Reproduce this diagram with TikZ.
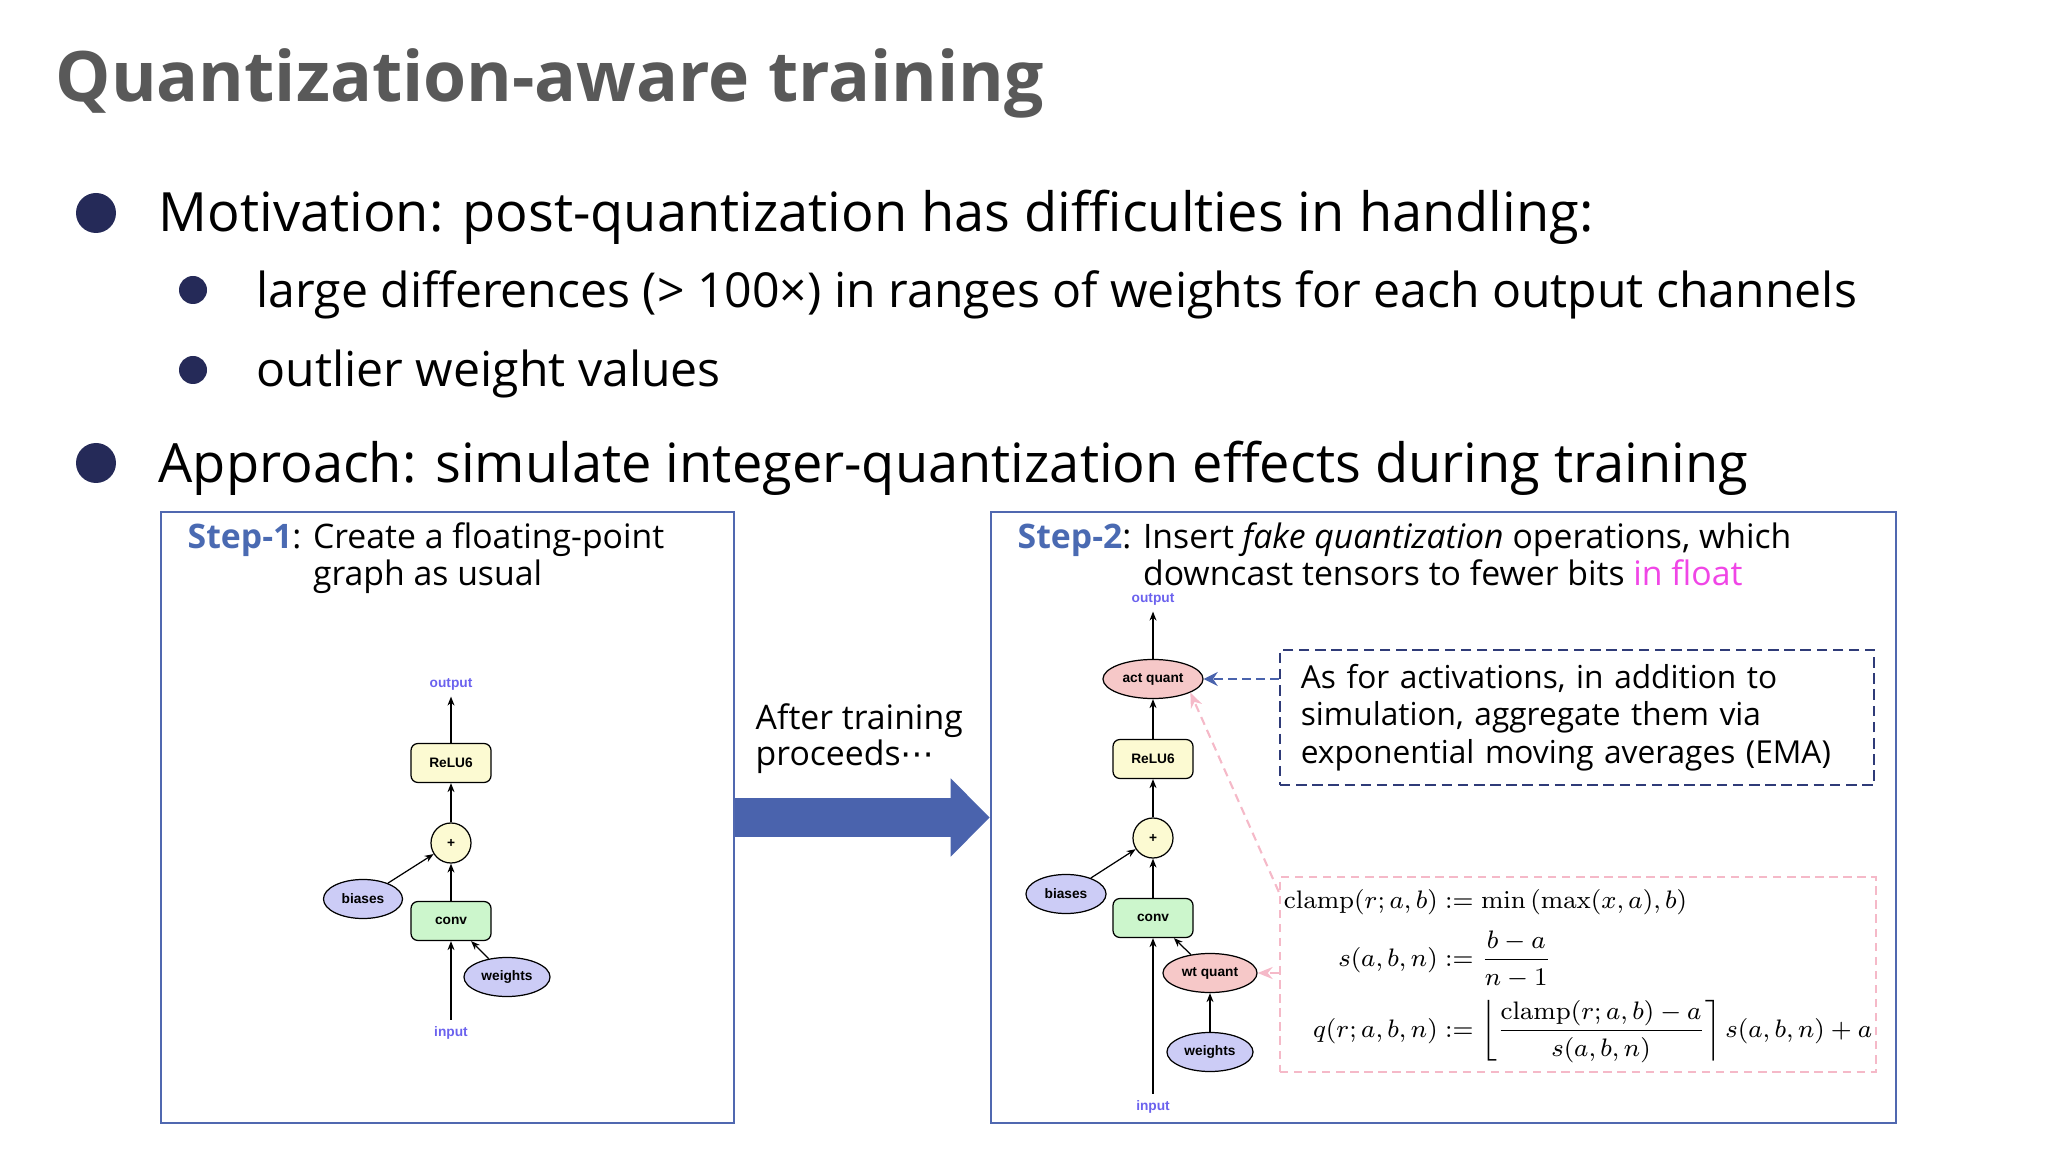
\documentclass[tikz,border=0pt]{standalone}
\usepackage{amsmath}
\usepackage[no-math]{fontspec}
\setmainfont{Open Sans}
\newfontfamily\graphfont{Liberation Sans}
\newfontfamily\symfont{DejaVu Sans}
\usetikzlibrary{arrows.meta,shapes.geometric}
\definecolor{titlegray}{HTML}{595959}
\definecolor{bulletnavy}{HTML}{252A58}
\definecolor{stepblue}{HTML}{4A6AB2}
\definecolor{panelblue}{HTML}{5068B0}
\definecolor{arrowblue}{HTML}{4A63AD}
\definecolor{emanavy}{HTML}{2F3B78}
\definecolor{floatpink}{HTML}{F046E6}
\definecolor{formpink}{HTML}{F5B9C8}
\definecolor{reluyellow}{HTML}{FCFAD2}
\definecolor{convgreen}{HTML}{CCF6CC}
\definecolor{paramlilac}{HTML}{CCCCF6}
\definecolor{quantpink}{HTML}{F6C8C8}
\definecolor{iopurple}{HTML}{6B62EE}
\begin{document}
\begin{tikzpicture}[x=0.01cm,y=-0.01cm]
\tikzstyle{every node}+=[inner sep=0pt]
\tikzstyle{textline}=[anchor=base west]
\tikzstyle{stepsize}=[font=\fontsize{9.6}{10.3}\selectfont]
\tikzstyle{panel}=[draw=panelblue,line width=0.6pt,minimum height=6.11cm]
\tikzstyle{opbox}=[draw,line width=0.35pt,rounded corners=0.07cm,minimum width=0.80cm,minimum height=0.39cm,font=\graphfont\bfseries\fontsize{3.9}{4.5}\selectfont]
\tikzstyle{opcirc}=[opbox,circle,fill=reluyellow,minimum size=0.40cm]
\tikzstyle{opell}=[opbox,ellipse,minimum height=0.39cm]
\tikzstyle{iolabel}=[inner sep=0.06cm,text=iopurple,font=\graphfont\bfseries\fontsize{3.9}{4.5}\selectfont]
\tikzstyle{garrow}=[line width=0.35pt,-{Stealth[length=0.09cm,width=0.07cm]}]
\tikzstyle{bigarrow}=[draw=arrowblue,line width=0.38cm,-{Triangle[length=0.39cm,width=0.76cm]}]
\tikzstyle{emabox}=[draw=emanavy,line width=0.6pt,dashed,dash pattern=on 3pt off 1.6pt,minimum width=5.94cm,minimum height=1.35cm,text width=5.52cm,inner xsep=0.21cm,align=left,font=\fontsize{9}{10.6}\selectfont]
\tikzstyle{emaarrow}=[draw=arrowblue,line width=0.7pt,dash pattern=on 2.4pt off 1.6pt,-{Stealth[length=0.14cm,width=0.14cm]}]
\tikzstyle{formbox}=[draw=formpink,line width=0.6pt,dash pattern=on 2.4pt off 1.6pt,minimum width=5.96cm,minimum height=1.95cm,font=\fontsize{8}{10}\selectfont]
\tikzstyle{formarrow}=[draw=formpink,line width=0.6pt,dash pattern=on 2.4pt off 1.6pt,-{Stealth[length=0.15cm,width=0.12cm]}]
\useasboundingbox (0,0) rectangle (2048,1152);
\node[textline,text=titlegray,font=\bfseries\fontsize{19.8}{23}\selectfont] (title) at (55,102) {Quantization-aware training};
\fill[bulletnavy] (96,213) circle (20);
\fill[bulletnavy] (193,290) circle (14);
\fill[bulletnavy] (193,370) circle (14);
\fill[bulletnavy] (96,463) circle (20);
\node[textline,font=\fontsize{15.4}{18}\selectfont] (motivation) at (158,232) {Motivation: post-quantization has difficulties in handling:};
\node[textline,font=\fontsize{13.7}{16}\selectfont] (ranges) at (256,308) {large differences (> 100×) in ranges of weights for each output channels};
\node[textline,font=\fontsize{13.7}{16}\selectfont] (outliers) at (256,387) {outlier weight values};
\node[textline,font=\fontsize{15.4}{18}\selectfont] (approach) at (158,482) {Approach: simulate integer-quantization effects during training};
\node[panel,minimum width=5.73cm] (box1) at (447.5,817.5) {};
\node[panel,minimum width=9.05cm] (box2) at (1443.5,817.5) {};
\draw[bigarrow] (box1.east) -- (box2.west);
\node[textline,stepsize] (stepone) at (187,549) {\textcolor{stepblue}{\bfseries Step-1}: \begin{tabular}[t]{@{}l@{}}Create a floating-point\\graph as usual\end{tabular}};
\node[textline,stepsize] (steptwo) at (1017,549) {\textcolor{stepblue}{\bfseries Step-2}: \begin{tabular}[t]{@{}l@{}}Insert \textit{fake quantization} operations, which\\downcast tensors to fewer bits \textcolor{floatpink}{in float}\end{tabular}};
\node[textline,stepsize] (after) at (755,729) {\begin{tabular}[t]{@{}l@{}}After training\\proceeds{\symfont ⋯}\end{tabular}};
\node[iolabel] (out1) at (451,684) {output};
\node[opbox,fill=reluyellow] (relu1) at (451,763) {ReLU6};
\node[opcirc] (add1) at (451,843) {+};
\node[opbox,fill=convgreen] (conv1) at (451,921) {conv};
\node[opell,fill=paramlilac,minimum width=0.79cm] (bias1) at (363,899) {biases};
\node[opell,fill=paramlilac,minimum width=0.86cm] (wts1) at (507,977) {weights};
\node[iolabel] (in1) at (451,1033) {input};
\draw[garrow] (in1) -- (conv1);
\draw[garrow] (wts1) -- (conv1);
\draw[garrow] (conv1) -- (add1);
\draw[garrow] (bias1) -- (add1);
\draw[garrow] (add1) -- (relu1);
\draw[garrow] (relu1) -- (out1);
\node[iolabel] (out2) at (1153,599) {output};
\node[opell,fill=quantpink,minimum width=1.00cm] (actq2) at (1153,679) {act quant};
\node[opbox,fill=reluyellow] (relu2) at (1153,759) {ReLU6};
\node[opcirc] (add2) at (1153,838) {+};
\node[opbox,fill=convgreen] (conv2) at (1153,918) {conv};
\node[opell,fill=paramlilac,minimum width=0.80cm] (bias2) at (1066,894) {biases};
\node[opell,fill=quantpink,minimum width=0.94cm] (wtq2) at (1210,973) {wt quant};
\node[opell,fill=paramlilac,minimum width=0.86cm] (wts2) at (1210,1052) {weights};
\node[iolabel] (in2) at (1153,1107) {input};
\draw[garrow] (in2) -- (conv2);
\draw[garrow] (wts2) -- (wtq2);
\draw[garrow] (wtq2) -- (conv2);
\draw[garrow] (conv2) -- (add2);
\draw[garrow] (bias2) -- (add2);
\draw[garrow] (add2) -- (relu2);
\draw[garrow] (relu2) -- (actq2);
\draw[garrow] (actq2) -- (out2);
\node[emabox] (ema) at (1577,717.5) {As for activations, in addition to\\simulation, aggregate them via\\exponential moving averages (EMA)};
\node[formbox] (form) at (1578,974.5) {\raisebox{-0.1cm}{\scalebox{0.9}{$\begin{aligned}
\mathrm{clamp}(r;a,b) &:= \min\left(\max(x,a),b\right)\\
s(a,b,n) &:= \frac{b-a}{n-1}\\
q(r;a,b,n) &:= \left\lfloor\frac{\mathrm{clamp}(r;a,b)-a}{s(a,b,n)}\right\rceil s(a,b,n)+a
\end{aligned}$}}};
\draw[emaarrow] (ema.west |- actq2.east) -- (actq2.east);
\draw[formarrow] ([yshift=-0.16cm]form.north west) -- (actq2.-20);
\draw[formarrow] (form.west |- wtq2.east) -- (wtq2.east);
\end{tikzpicture}
\end{document}
